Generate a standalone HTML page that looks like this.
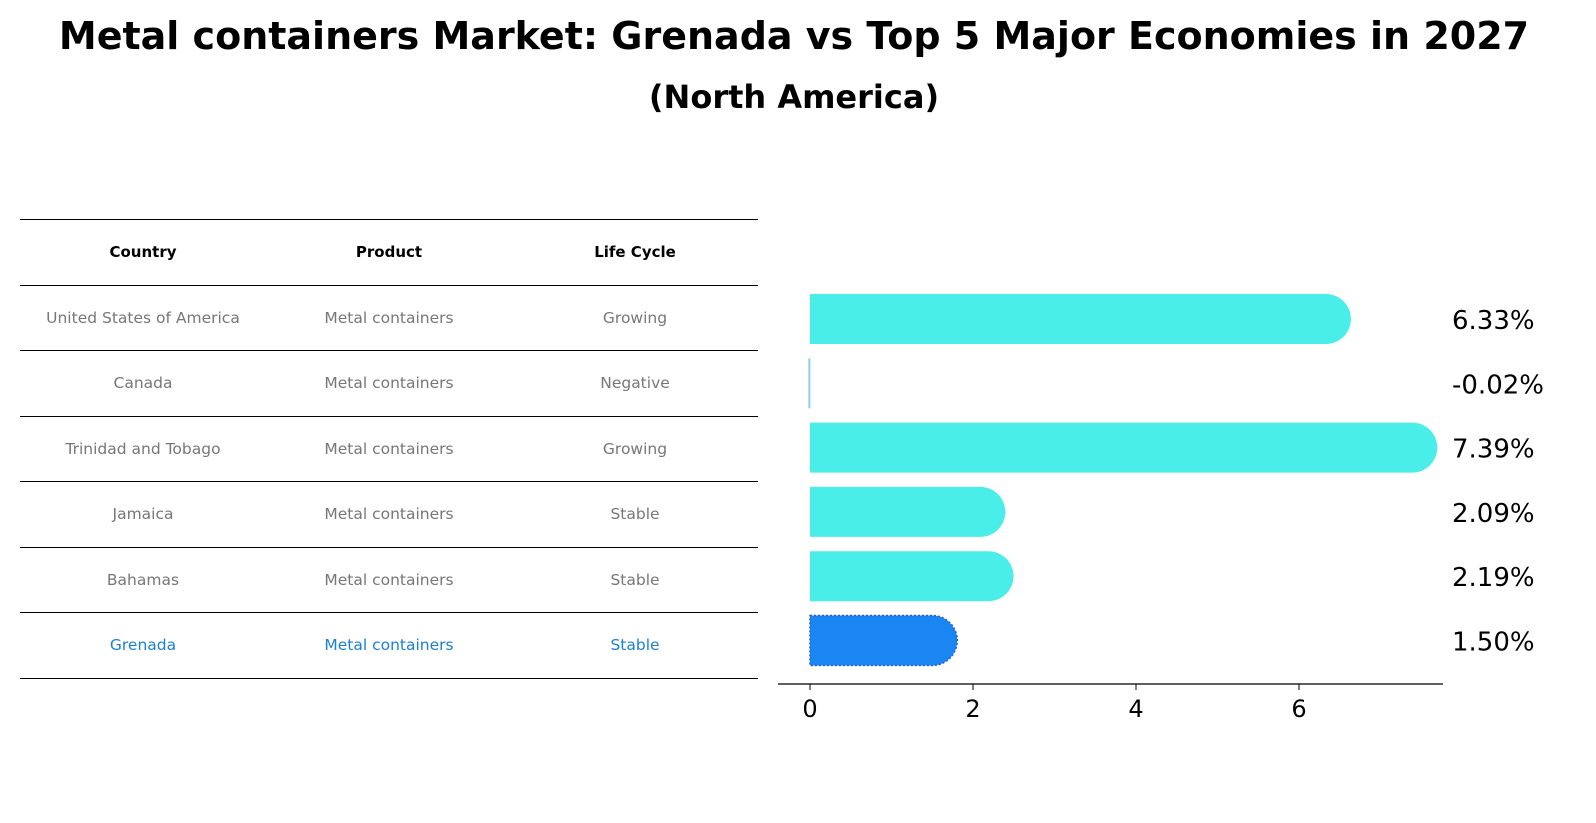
<!DOCTYPE html>
<html><head><meta charset="utf-8"><style>
body{margin:0;width:1596px;height:823px;background:#fff;font-family:"Liberation Sans","DejaVu Sans",sans-serif;position:relative;overflow:hidden}
.t1{position:absolute;top:14px;left:0;width:1588px;text-align:center;font-weight:bold;font-size:38px;font-family:"DejaVu Sans",sans-serif}
.t2{position:absolute;top:78px;left:0;width:1588px;text-align:center;font-weight:bold;font-size:32px;font-family:"DejaVu Sans",sans-serif}
table{position:absolute;left:20px;top:219px;width:738px;border-collapse:collapse;font-family:"DejaVu Sans",sans-serif}
td,th{height:64.5px;border-top:1px solid #000;border-bottom:1px solid #000;text-align:center;font-size:15.5px;color:#777;padding:0;width:33.3%}
th{color:#000;font-size:15px}
tr.hl td{color:#1a7fd6}
</style></head><body>
<div class="t1">Metal containers Market: Grenada vs Top 5 Major Economies in 2027</div>
<div class="t2">(North America)</div>
<table>
<tr><th>Country</th><th>Product</th><th>Life Cycle</th></tr>
<tr><td>United States of America</td><td>Metal containers</td><td>Growing</td></tr>
<tr><td>Canada</td><td>Metal containers</td><td>Negative</td></tr>
<tr><td>Trinidad and Tobago</td><td>Metal containers</td><td>Growing</td></tr>
<tr><td>Jamaica</td><td>Metal containers</td><td>Stable</td></tr>
<tr><td>Bahamas</td><td>Metal containers</td><td>Stable</td></tr>
<tr class="hl"><td>Grenada</td><td>Metal containers</td><td>Stable</td></tr>
</table>
<svg id="chart" width="1596" height="823" style="position:absolute;left:0;top:0"></svg>
<script>
const countries=["United States of America","Canada","Trinidad and Tobago","Jamaica","Bahamas","Grenada"];
const values=[6.33,-0.02,7.39,2.09,2.19,1.50];
const labels=["6.33%","-0.02%","7.39%","2.09%","2.19%","1.50%"];
const ticks=[0,2,4,6];
const svg=document.getElementById('chart');
const NS='http://www.w3.org/2000/svg';
const x=v=>810+v*81.5;
const y=i=>319+i*64.3;
const H=50,R=25;
function mk(t,a){const e=document.createElementNS(NS,t);for(const k in a)e.setAttribute(k,a[k]);svg.appendChild(e);return e;}
values.forEach((v,i)=>{
  const g=i===values.length-1;
  const col=g?'#1a86f2':'#4aeee9';
  const cy=y(i);
  if(Math.abs(v)<0.1){
    const l=mk('rect',{x:x(Math.min(v,0)),y:cy-H/2,width:2,height:H,fill:'#8fcde8'});
    
    
  } else {
    const w=x(v)-x(0);
    const p=mk('path',{d:`M${x(0)},${cy-H/2} h${w} a${R},${R} 0 0 1 0,${H} h${-w} z`,fill:col});
    if(g){p.setAttribute('stroke','#2a5fd0');p.setAttribute('stroke-dasharray','2,2');p.setAttribute('stroke-width','1.5');}
    
    
  }
  const t=mk('text',{x:1452,y:cy+10,'font-size':26,fill:'#000','font-family':'DejaVu Sans, sans-serif'});
  t.textContent=labels[i];
  
  
});
const ax=mk('line',{x1:778,x2:1443,y1:684,y2:684,stroke:'#000','stroke-width':1.3});


ticks.forEach(v=>{
  const tk=mk('line',{x1:x(v),x2:x(v),y1:684,y2:690,stroke:'#000'});
  
  
  const t=mk('text',{x:x(v),y:717,'font-size':24,'text-anchor':'middle','font-family':'DejaVu Sans, sans-serif'});
  t.textContent=v;
  
  
});
</script>
</body></html>
